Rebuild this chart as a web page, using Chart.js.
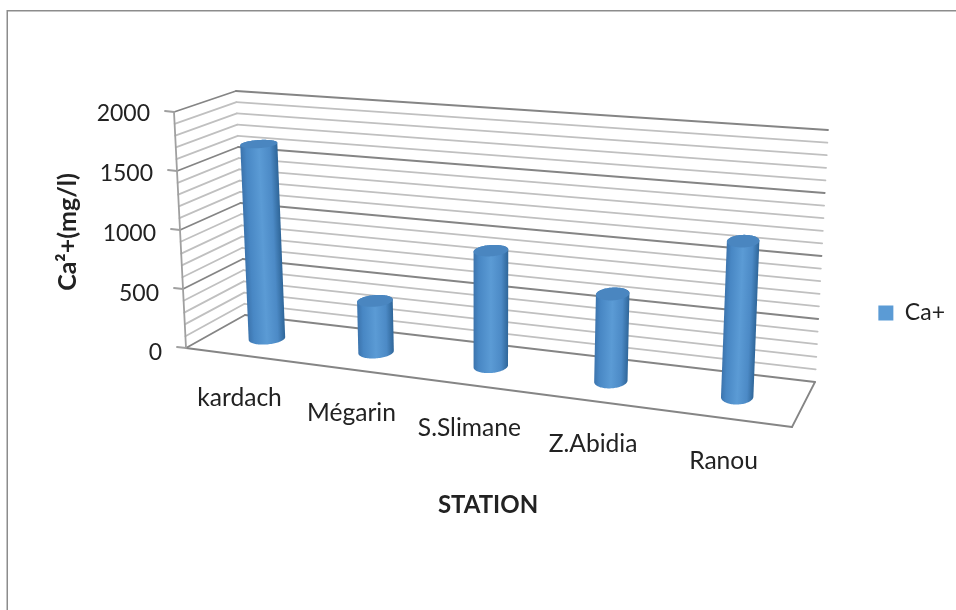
<!DOCTYPE html>
<html>
<head>
<meta charset="utf-8">
<script src="https://cdn.jsdelivr.net/npm/chart.js@4"></script>
<style>
  body { margin: 0; background: #fff; }
  canvas { display: block; }
</style>
</head>
<body>
<canvas id="chart" width="956" height="610"></canvas>
<script>
// Data
const stations = ["kardach", "Mégarin", "S.Slimane", "Z.Abidia", "Ranou"];
const calcium = [1670, 430, 950, 700, 1220];
const seriesName = "Ca+";
const xTitle = "STATION";
const yTitle = "Ca²+(mg/l)";
const yMax = 2000;
const yStep = 100;
const yLabelStep = 500;

const textColor = "#222222";
const minorGrid = "#c0c0c0";
const majorGrid = "#858585";
const fontName = "Lato, Carlito, sans-serif";

// Corners of the 3D box on the page: floor and top plane,
// in order front-left, front-right, back-right, back-left
const floorQuad = [[186, 348], [792, 427], [815, 382], [245, 315]];
const topQuad = [[174, 112], [805, 163], [828, 130], [236, 91]];
const barDepth = 0.47;      // where the cylinders stand between front (0) and back (1)
const depthRadius = 0.17;
// The perspective along the categories is weaker than the corners alone give
const floorWarp = 0.012;
const topWarp = 0.045;

// Square to quad homography (Heckbert)
function makeHomography(q) {
    const [p0, p1, p2, p3] = q;
    const dx1 = p1[0] - p2[0], dx2 = p3[0] - p2[0], dx3 = p0[0] - p1[0] + p2[0] - p3[0];
    const dy1 = p1[1] - p2[1], dy2 = p3[1] - p2[1], dy3 = p0[1] - p1[1] + p2[1] - p3[1];
    const den = dx1 * dy2 - dx2 * dy1;
    const g = (dx3 * dy2 - dx2 * dy3) / den;
    const h = (dx1 * dy3 - dx3 * dy1) / den;
    const a = p1[0] - p0[0] + g * p1[0], b = p3[0] - p0[0] + h * p3[0];
    const d = p1[1] - p0[1] + g * p1[1], e = p3[1] - p0[1] + h * p3[1];
    return (u, w) => {
        const k = g * u + h * w + 1;
        return [(a * u + b * w + p0[0]) / k, (d * u + e * w + p0[1]) / k];
    };
}
const floorMap = makeHomography(floorQuad);
const topMap = makeHomography(topQuad);

// u along the categories, v up the value axis, w into the depth
function project(u, v, w) {
    const bend = Math.sin(Math.PI * u);
    const a = floorMap(u + floorWarp * bend, w), b = topMap(u + topWarp * bend, w);
    return { x: a[0] + (b[0] - a[0]) * v, y: a[1] + (b[1] - a[1]) * v };
}

let area = null; // set from the chart before anything is drawn

// Bar element that draws itself as a cylinder in the box
class CylinderElement extends Chart.BarElement {
    draw(ctx) {
        const { x, y, base, width } = this.getProps(["x", "y", "base", "width"]);
        const u = (x - area.left) / area.width;
        const v1 = (area.bottom - y) / area.height;
        const v0 = (area.bottom - base) / area.height;
        const N = 96;
        const ring = (v) => {
            // same width on the page at any height
            const pxPerU = (project(u + 0.01, v, barDepth).x - project(u - 0.01, v, barDepth).x) / 0.02;
            const ru = width / 2 / pxPerU;
            const pts = [];
            for (let i = 0; i < N; i++) {
                const t = i / N * Math.PI * 2;
                pts.push(project(u + ru * Math.cos(t), v, barDepth + depthRadius * Math.sin(t)));
            }
            return pts;
        };
        const low = ring(v0), high = ring(v1);
        const extreme = (pts, sign) => pts.reduce((best, p, i) => sign * p.x > sign * pts[best].x ? i : best, 0);
        const lowL = extreme(low, -1), lowR = extreme(low, 1);
        const highL = extreme(high, -1), highR = extreme(high, 1);
        const walk = (pts, from, to) => {
            for (let i = from; i !== to; i = (i + 1) % N) ctx.lineTo(pts[i].x, pts[i].y);
            ctx.lineTo(pts[to].x, pts[to].y);
        };

        // Shading runs across the cylinder, square to its axis
        const mx = (low[lowL].x + low[lowR].x + high[highL].x + high[highR].x) / 4;
        const my = (low[lowL].y + low[lowR].y + high[highL].y + high[highR].y) / 4;
        let ax = (high[highL].x + high[highR].x - low[lowL].x - low[lowR].x) / 2;
        let ay = (high[highL].y + high[highR].y - low[lowL].y - low[lowR].y) / 2;
        const len = Math.hypot(ax, ay) || 1;
        ax /= len; ay /= len;
        const half = (low[lowR].x - low[lowL].x) / 2;
        const shade = ctx.createLinearGradient(mx + ay * half, my - ax * half, mx - ay * half, my + ax * half);
        shade.addColorStop(0, "#3c74ad");
        shade.addColorStop(0.15, "#4887c4");
        shade.addColorStop(0.5, "#5b9bd5");
        shade.addColorStop(0.8, "#4c8ac6");
        shade.addColorStop(1, "#2f6699");

        ctx.beginPath();
        ctx.moveTo(low[lowL].x, low[lowL].y);
        walk(low, lowL, lowR);
        walk(high, highR, highL);
        ctx.closePath();
        ctx.fillStyle = shade;
        ctx.fill();

        // Cap
        ctx.beginPath();
        high.forEach((p, i) => i ? ctx.lineTo(p.x, p.y) : ctx.moveTo(p.x, p.y));
        ctx.closePath();
        ctx.fillStyle = "#4a86c0";
        ctx.fill();
    }
}
CylinderElement.id = "cylinder";
CylinderElement.defaults = {};

class CylinderController extends Chart.BarController {}
CylinderController.id = "cylinderBar";
CylinderController.defaults = { dataElementType: "cylinder" };

Chart.register(CylinderElement, CylinderController);

function line(ctx, a, b, color, width) {
    ctx.beginPath();
    ctx.moveTo(a.x, a.y);
    ctx.lineTo(b.x, b.y);
    ctx.strokeStyle = color;
    ctx.lineWidth = width;
    ctx.stroke();
}

// Walls, floor and all text around them
const boxPlugin = {
    id: "box",
    beforeDraw(chart) {
        area = chart.chartArea;
        const ctx = chart.ctx;
        ctx.save();
        ctx.fillStyle = "#fff";
        ctx.fillRect(0, 0, chart.width, chart.height);
        // outer frame, open at the right and bottom
        ctx.strokeStyle = "#8c8c8c";
        ctx.lineWidth = 1.5;
        ctx.beginPath();
        ctx.moveTo(7.25, chart.height);
        ctx.lineTo(7.25, 10.75);
        ctx.lineTo(chart.width, 10.75);
        ctx.stroke();
        ctx.restore();
    },
    beforeDatasetsDraw(chart) {
        const ctx = chart.ctx;
        const yScale = chart.scales.y;
        const xScale = chart.scales.x;
        ctx.save();
        ctx.lineCap = "round";

        // gridlines on the left and back walls
        yScale.ticks.forEach((tick) => {
            const v = tick.value / yMax;
            const major = tick.value % yLabelStep === 0;
            const color = major ? majorGrid : minorGrid;
            line(ctx, project(0, v, 0), project(0, v, 1), color, 1.8);
            line(ctx, project(0, v, 1), project(1, v, 1), color, 1.8);
        });

        // value axis edge and floor
        line(ctx, project(0, 0, 0), project(0, 1, 0), "#a0a0a0", 1.8);
        line(ctx, project(0, 0, 0), project(1, 0, 0), majorGrid, 1.8);
        line(ctx, project(1, 0, 0), project(1, 0, 1), majorGrid, 1.8);

        // value labels and their tick marks
        ctx.font = `23px ${fontName}`;
        ctx.fillStyle = textColor;
        ctx.textAlign = "right";
        ctx.textBaseline = "middle";
        yScale.ticks.forEach((tick) => {
            if (tick.value % yLabelStep !== 0) return;
            const v = tick.value / yMax;
            const p = project(0, v, 0);
            line(ctx, p, { x: p.x - 9, y: p.y - 1 }, "#a0a0a0", 1.8);
            ctx.fillText(String(tick.value), p.x - 24, p.y + 2 + 3 * (1 - v));
        });

        // category labels under the front edge
        ctx.font = `24.6px ${fontName}`;
        ctx.textAlign = "center";
        stations.forEach((name, i) => {
            const u = (xScale.getPixelForTick(i) - area.left) / area.width;
            const p = project(u, 0, 0);
            ctx.fillText(name, p.x, p.y + 43);
        });

        // axis titles
        ctx.font = `bold 24px ${fontName}`;
        ctx.fillText(xTitle, 488, 505);
        ctx.font = `bold 25px ${fontName}`;
        ctx.translate(68, 232);
        ctx.rotate(-Math.PI / 2);
        ctx.fillText(yTitle, 0, 0);
        ctx.restore();
    }
};

new Chart(document.getElementById("chart"), {
    type: "cylinderBar",
    data: {
        labels: stations,
        datasets: [{
            label: seriesName,
            data: calcium,
            backgroundColor: "#5b9bd5",
            borderWidth: 0,
            barThickness: 31,
            clip: false
        }]
    },
    options: {
        responsive: false,
        animation: false,
        layout: { padding: { top: 16, right: 1 } },
        scales: {
            x: { type: "category", display: false },
            y: { type: "linear", display: false, min: 0, max: yMax, ticks: { stepSize: yStep } }
        },
        plugins: {
            tooltip: { enabled: false },
            legend: {
                position: "right",
                labels: {
                    boxWidth: 15,
                    boxHeight: 15,
                    color: textColor,
                    font: { family: fontName, size: 23 }
                }
            }
        }
    },
    plugins: [boxPlugin]
});
</script>
</body>
</html>
